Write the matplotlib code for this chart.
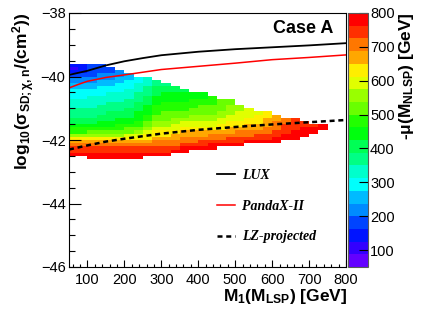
#!/usr/bin/env python3
"""Case A: spin-dependent LSP-neutron cross section vs M1, coloured by -mu(M_NLSP)."""

import colorsys

import numpy as np
import matplotlib
matplotlib.use("Agg")
import matplotlib.pyplot as plt
from matplotlib.colors import ListedColormap, BoundaryNorm
from matplotlib.ticker import MultipleLocator

plt.rcParams["font.family"] = ["Liberation Sans", "DejaVu Sans"]
plt.rcParams["mathtext.fontset"] = "custom"
plt.rcParams["mathtext.rm"] = "Liberation Sans"
plt.rcParams["mathtext.it"] = "Liberation Sans:italic"
plt.rcParams["mathtext.bf"] = "Liberation Sans:bold"

# --- scan histogram: M1 bins [GeV] and log10(sigma_SD/cm^2) bins ---
M1_LO, M1_STEP, M1_NBINS = 50, 25, 28
LOGSIG_LO, LOGSIG_STEP, LOGSIG_NBINS = -42.6, 0.1, 30

# -mu(M_NLSP) colour levels [GeV]
MU_LO, MU_HI, MU_NLEVELS = 50.0, 800.0, 20
MU_TICKS = [100, 200, 300, 400, 500, 600, 700, 800]

# colour level of each cell, top row (log sigma -39.7..-39.6) first, "." = empty
LEVEL_CODES = "0123456789abcdefghij"
MU_ROWS = [
    "2233",
    "12333",
    "223334",
    "3334445",
    "444445567",
    "4445556678",
    "55555667788",
    "555666678999",
    "6666667789999",
    "6666777889aaaaa",
    "667777789aaaaaab",
    "777777889aaaabbbcc",
    "777788899abbbbbbcc",
    "77788889abbbbbcccdd",
    "88888899abbbbccccdde",
    "8888999aabccccccddeeef",
    "8889999abccccddddeeeffg",
    "99999aaabccdddddeeeffgghi",
    "999aaaabcdddeeeeeffffghhii",
    "aaaaabbbcddeeeeefffggghiiiij",
    "bbbbbbccdeeefffffgggghhiijjj",
    "bbcccccdefffgggggghhhhiijjj",
    "ddddddeefffgggghhhhhiiijjj",
    "fffffffffggghhhhhiiiiijjj",
    "ggggggggghhhhhiiiiijjjj",
    "hhhhhhhhhhhhiiijjjj",
    "iiiiiiiiiiiijjjj",
    "iiiiiiiiiiijj",
    "jjjjjjjjjjj",
    "..jjjjjj",
]

# --- direct-detection limits ---
LUX_M1 = [50, 100, 150, 200, 250, 300, 400, 500, 600, 700, 800]
LUX_LOGSIG = [-39.95, -39.82, -39.65, -39.52, -39.42, -39.33, -39.22, -39.14, -39.08, -39.02, -38.95]

PANDAX_M1 = [50, 75, 100, 150, 200, 300, 400, 500, 600, 700, 800]
PANDAX_LOGSIG = [-40.36, -40.25, -40.15, -40.03, -39.95, -39.78, -39.68, -39.58, -39.47, -39.40, -39.32]

LZ_M1 = [50, 100, 150, 200, 300, 400, 500, 600, 700, 800]
LZ_LOGSIG = [-42.30, -42.17, -42.05, -41.96, -41.80, -41.68, -41.59, -41.51, -41.44, -41.37]


def root_palette(n_levels, n_colors=50):
    """ROOT 'pretty' rainbow palette (violet -> red) sampled for n_levels contours."""
    cols = []
    for lev in range(n_levels):
        ci = int((lev + 0.99) * n_colors / n_levels)
        hue = 280.0 - (ci + 1) * 280.0 / n_colors
        cols.append(colorsys.hls_to_rgb(hue / 360.0, 0.5, 1.0))
    return ListedColormap(cols)


def build_grid():
    step = (MU_HI - MU_LO) / MU_NLEVELS
    grid = np.full((LOGSIG_NBINS, M1_NBINS), np.nan)
    for i, row in enumerate(MU_ROWS[::-1]):
        for j, ch in enumerate(row.ljust(M1_NBINS, ".")):
            if ch != ".":
                grid[i, j] = MU_LO + (LEVEL_CODES.index(ch) + 0.5) * step
    return np.ma.masked_invalid(grid)


def main():
    W, H = 433, 314
    fig = plt.figure(figsize=(W / 100, H / 100), dpi=100)
    ax = fig.add_axes([69 / W, 1 - 267 / H, 277 / W, 254 / H])

    x_edges = M1_LO + M1_STEP * np.arange(M1_NBINS + 1)
    y_edges = LOGSIG_LO + LOGSIG_STEP * np.arange(LOGSIG_NBINS + 1)
    cmap = root_palette(MU_NLEVELS)
    norm = BoundaryNorm(np.linspace(MU_LO, MU_HI, MU_NLEVELS + 1), cmap.N)
    mesh = ax.pcolormesh(x_edges, y_edges, build_grid(), cmap=cmap, norm=norm,
                         edgecolors="none", antialiased=False)

    ax.plot(LUX_M1, LUX_LOGSIG, color="black", lw=1.3, label="LUX")
    ax.plot(PANDAX_M1, PANDAX_LOGSIG, color="red", lw=1.1, label="PandaX-II")
    ax.plot(LZ_M1, LZ_LOGSIG, color="black", lw=1.8, ls=(0, (2.0, 1.5)),
            label="LZ-projected")

    ax.set_xlim(50, 800)
    ax.set_ylim(-46, -38)
    ax.xaxis.set_major_locator(MultipleLocator(100))
    ax.xaxis.set_minor_locator(MultipleLocator(20))
    ax.yaxis.set_major_locator(MultipleLocator(2))
    ax.yaxis.set_minor_locator(MultipleLocator(0.5))
    ax.tick_params(which="both", direction="in", top=False, right=False,
                   labelsize=10.5, width=0.8)
    ax.tick_params(axis="x", which="major", length=5, pad=4)
    ax.tick_params(axis="x", which="minor", length=2.5)
    ax.tick_params(axis="y", which="major", length=8.5, pad=2.5)
    ax.tick_params(axis="y", which="minor", length=4.3)
    for sp in ax.spines.values():
        sp.set_linewidth(0.8)

    ax.legend(loc="upper left", bbox_to_anchor=(0.535, 0.385), frameon=False,
              prop=dict(family="Liberation Serif", style="italic", weight="bold", size=10),
              handlelength=1.3, handletextpad=0.5, labelspacing=1.27,
              borderpad=0, borderaxespad=0)

    ax.text(0.953, 0.921, "Case A", transform=ax.transAxes, ha="right",
            va="baseline", fontsize=13, fontweight="bold")

    fig.text(347 / W, 1 - 301 / H, r"M$_{\mathbf{1}}$(M$_{\mathbf{LSP}}$) [GeV]",
             ha="right", va="baseline", fontsize=12.5, fontweight="bold")
    fig.text(24 / W, 1 - 13 / H,
             r"log$_{\mathbf{10}}$($\mathbf{\sigma_{SD;\chi,n}}$/(cm$^{\mathbf{2}}$))",
             ha="center", va="top", rotation=90, fontsize=12.5, fontweight="bold")

    cax = fig.add_axes([348 / W, 1 - 267 / H, 20 / W, 254 / H])
    cb = fig.colorbar(mesh, cax=cax, ticks=MU_TICKS)
    cb.ax.tick_params(direction="in", length=6.5, width=0.8, labelsize=10.5, pad=1.5)
    cb.ax.minorticks_off()
    cb.outline.set_edgecolor("0.35")
    cb.outline.set_linewidth(0.8)
    fig.text(407 / W, 1 - 12 / H, r"-$\mathbf{\mu}$(M$_{\mathbf{NLSP}}$) [GeV]",
             ha="center", va="top", rotation=90, fontsize=12.5, fontweight="bold")

    fig.savefig("out.png", dpi=100)


if __name__ == "__main__":
    main()
